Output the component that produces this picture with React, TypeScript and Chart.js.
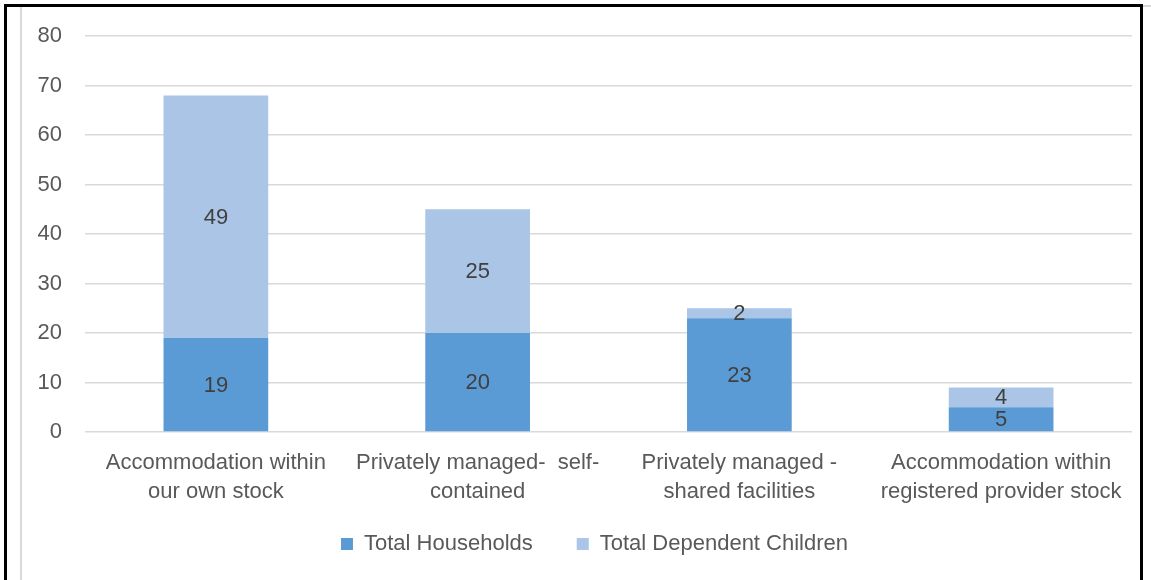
import React, { useEffect, useRef } from "react";
import { Chart, registerables } from "chart.js";

Chart.register(...registerables);

const categories: string[][] = [
  ["Accommodation within", "our own stock"],
  ["Privately managed-  self-", "contained"],
  ["Privately managed -", "shared facilities"],
  ["Accommodation within", "registered provider stock"],
];
const totalHouseholds = [19, 20, 23, 5];
const totalDependentChildren = [49, 25, 2, 4];
const yTicks = [0, 10, 20, 30, 40, 50, 60, 70, 80];

const FONT = "'Liberation Sans', Arial, sans-serif";

const valueLabels = {
  id: "valueLabels",
  afterDatasetsDraw(chart: any) {
    const ctx = chart.ctx;
    ctx.save();
    ctx.font = `22px ${FONT}`;
    ctx.fillStyle = "#404040";
    ctx.textAlign = "center";
    ctx.textBaseline = "middle";
    chart.data.datasets.forEach((ds: any, di: number) => {
      const meta = chart.getDatasetMeta(di);
      meta.data.forEach((bar: any, i: number) => {
        const v = ds.data[i];
        const y = (bar.y + bar.base) / 2;
        ctx.fillText(String(v), bar.x, y + 1);
      });
    });
    ctx.restore();
  },
};

// nudge legend box to its place under the plot
const legendPlacer = {
  id: "legendPlacer",
  afterLayout(chart: any) {
    const lg = chart.legend;
    if (!lg) return;
    lg.top = 489;
    lg.bottom = 580;
    lg.height = 91;
    lg.left += 18.5;
    lg.right += 18.5;
  },
};

export default function App() {
  const ref = useRef<HTMLCanvasElement>(null);
  useEffect(() => {
    const chart = new Chart(ref.current!, {
      type: "bar",
      data: {
        labels: categories,
        datasets: [
          {
            label: "Total Households",
            data: totalHouseholds,
            backgroundColor: "#5B9BD5",
            barPercentage: 0.4,
            categoryPercentage: 1,
          },
          {
            label: "Total Dependent Children",
            data: totalDependentChildren,
            backgroundColor: "#AAC5E6",
            barPercentage: 0.4,
            categoryPercentage: 1,
          },
        ],
      },
      options: {
        animation: false,
        responsive: false,
        maintainAspectRatio: false,
        layout: { padding: { left: 20, top: 35, right: 19, bottom: 0 } },
        scales: {
          x: {
            stacked: true,
            grid: { display: false, drawTicks: false },
            border: { display: false },
            ticks: {
              color: "#595959",
              font: { family: FONT, size: 22, lineHeight: 1.32 },
              padding: 16,
              maxRotation: 0,
              autoSkip: false,
            },
          },
          y: {
            stacked: true,
            min: 0,
            max: 80,
            afterBuildTicks: (scale: any) => {
              scale.ticks = yTicks.map((v) => ({ value: v }));
            },
            afterFit: (scale: any) => {
              scale.width = 65;
            },
            grid: { color: "#D9D9D9", lineWidth: 1.5, drawTicks: false },
            border: { display: false },
            ticks: {
              color: "#595959",
              font: { family: FONT, size: 22 },
              padding: 23,
            },
          },
        },
        plugins: {
          legend: {
            position: "bottom",
            maxHeight: 58,
            labels: {
              color: "#595959",
              font: { family: FONT, size: 22 },
              boxWidth: 12,
              boxHeight: 12,
              padding: 44,
            },
          },
          tooltip: { enabled: false },
        },
      },
      plugins: [valueLabels, legendPlacer],
    });
    return () => chart.destroy();
  }, []);

  return (
    <div
      style={{
        position: "fixed",
        left: 0,
        top: 0,
        width: 1151,
        height: 580,
        background: "#fff",
        overflow: "hidden",
      }}
    >
      <canvas ref={ref} width={1151} height={580} style={{ position: "absolute", left: 0, top: 0 }} />
      <div style={{ position: "absolute", left: 20, top: 5, width: 1131, height: 2, background: "#D9D9D9" }} />
      <div style={{ position: "absolute", left: 20, top: 5, width: 2, height: 580, background: "#D9D9D9" }} />
      <div
        style={{
          position: "absolute",
          left: 4,
          top: 4,
          width: 1139,
          height: 600,
          border: "3px solid #000",
          borderBottom: "none",
          boxSizing: "border-box",
        }}
      />
    </div>
  );
}
